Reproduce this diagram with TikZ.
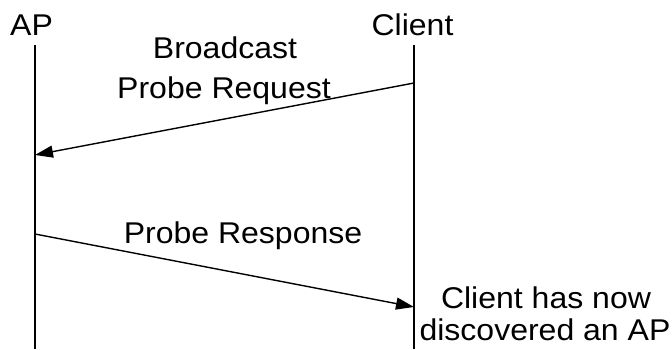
\documentclass[tikz,border=0pt]{standalone}
\usepackage{fontspec}
\setmainfont[FakeStretch=1.067]{Liberation Sans}
\usetikzlibrary{arrows.meta}
\begin{document}
\begin{tikzpicture}[x=1pt,y=-1pt,
  lbl/.style={anchor=base,inner sep=0pt,font=\fontsize{30}{36}\selectfont},
  life/.style={line width=1.4pt},
  msg/.style={line width=1.4pt,-{Triangle[length=18pt,width=12pt]}}]
\useasboundingbox (0,0) rectangle (672,349);
% actors
\node[lbl] (ap) at (31.5,35) {AP};
\node[lbl] (cl) at (412.5,35) {Client};
% lifelines
\coordinate (apTop) at (35,45);
\coordinate (apBot) at (35,349);
\coordinate (clTop) at (414,45);
\coordinate (clBot) at (414,349);
\draw[life] (apTop) -- (apBot);
\draw[life] (clTop) -- (clBot);
% message 1
\coordinate (m1s) at (414,83);
\coordinate (m1e) at (35,155);
\draw[msg] (m1s) -- (m1e);
\node[lbl] (bc1) at (225,58) {Broadcast};
\node[lbl] (bc2) at (224,98) {Probe Request};
% message 2
\coordinate (m2s) at (35,234);
\coordinate (m2e) at (414,307);
\draw[msg] (m2s) -- (m2e);
\node[lbl] (pr) at (243,243) {Probe Response};
% note
\node[lbl] (n1) at (546,308) {Client has now};
\node[lbl] (n2) at (545,340) {discovered an AP};
\end{tikzpicture}
\end{document}
